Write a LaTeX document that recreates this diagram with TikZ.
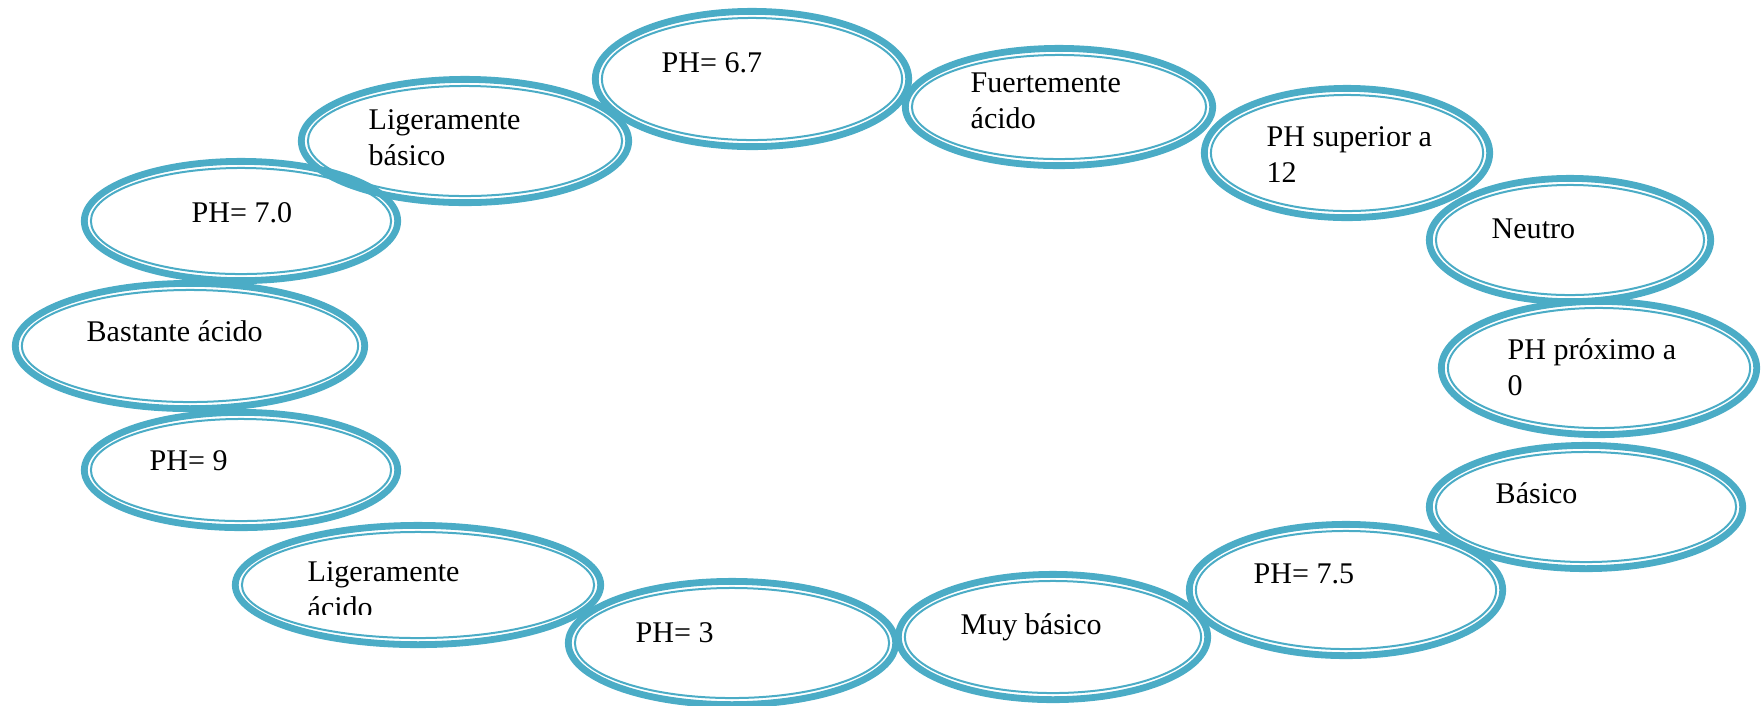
\documentclass[tikz,border=0pt]{standalone}
\usepackage{fontspec}
\setmainfont{Liberation Serif}
\usetikzlibrary{shapes,calc}
\definecolor{ringblue}{RGB}{75,172,198}
\tikzset{ring/.style={
            draw=ringblue,
            ellipse,
            line width=0.68mm,
            inner sep=0pt,
            path picture={
                \draw[ringblue, line width=0.2mm]
                    let \p1=($(path picture bounding box.north east)-(path picture bounding box.center)$)
                    in (path picture bounding box.center) ellipse ({\x1-0.66mm} and {\y1-0.66mm});
            }
        },
        oval/.style 2 args={
            minimum width={(2*#1-6.8)*0.1mm},
            minimum height={(2*#2-6.8)*0.1mm}
        },
        txt/.style={
            anchor=base west,
            inner sep=0pt,
            align=left,
            font=\fontsize{8.54pt}{9.96pt}\selectfont
        }
    }

\begin{document}
\begin{tikzpicture}[x=0.01cm, y=-0.01cm]
        \useasboundingbox (0,0) rectangle (1761,705);

        \node[ring, oval={160}{71}] (ph67) at (752,79) {};
        \node[ring, oval={157}{62}] (fuerte) at (1059,107) {};
        \node[ring, oval={146}{68}] (phsup) at (1347,153) {};
        \node[ring, oval={144}{65}] (neutro) at (1570,240) {};
        \node[ring, oval={161}{70}] (phprox) at (1599,368) {};
        \node[ring, oval={160}{65}] (basico) at (1586,507) {};
        \node[ring, oval={160}{69}] (ph75) at (1346,590) {};
        \node[ring, oval={158}{66}] (muybas) at (1053,637) {};
        \node[ring, oval={167}{65}] (ph3) at (732,643) {};
        \node[ring, oval={186}{63}] (ligac) at (418,585) {};
        \node[ring, oval={160}{61}] (ph9) at (241,470) {};
        \node[ring, oval={178}{66}] (bastante) at (190,346) {};
        \node[ring, oval={160}{63}] (ph70) at (241,221) {};
        \node[ring, oval={167}{65}] (ligbas) at (465,141) {};

        % two-line texts are placed by the baseline of their last line
        \node[txt] (tph67) at (661,72) {PH= 6.7};
        \node[txt] (tfuerte) at (970,128) {Fuertemente\\ácido};
        \node[txt] (tphsup) at (1266,182) {PH superior a\\12};
        \node[txt] (tneutro) at (1491,238) {Neutro};
        \node[txt] (tphprox) at (1507,395) {PH próximo a\\0};
        \node[txt] (tbasico) at (1495,503) {Básico};
        \node[txt] (tph75) at (1253,583) {PH= 7.5};
        \node[txt] (tmuybas) at (960,634) {Muy básico};
        \node[txt] (tph3) at (635,642) {PH= 3};
        \begin{scope}
            \clip (300,540) rectangle (600,614);
            \node[txt] (tligac) at (307,617) {Ligeramente\\ácido};
        \end{scope}
        \node[txt] (tph9) at (149,470) {PH= 9};
        \node[txt] (tbastante) at (86,341) {Bastante ácido};
        \node[txt] (tph70) at (191,222) {PH= 7.0};
        \node[txt] (tligbas) at (368,165) {Ligeramente\\básico};
\end{tikzpicture}
\end{document}
